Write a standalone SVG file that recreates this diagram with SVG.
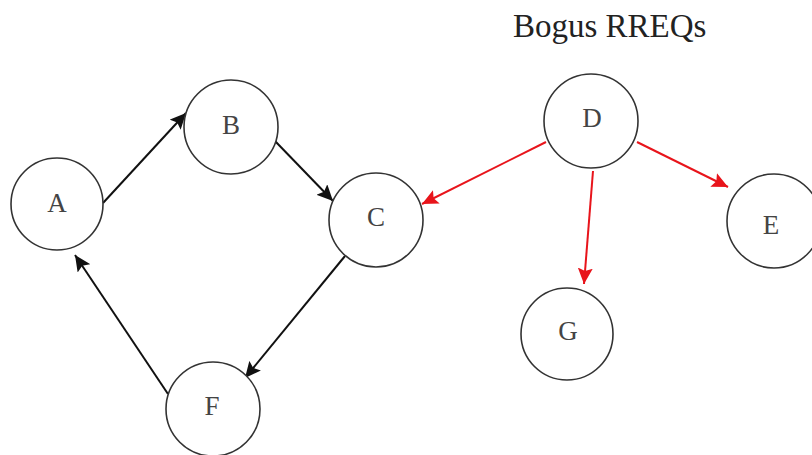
<svg xmlns="http://www.w3.org/2000/svg" width="812" height="455" viewBox="0 0 812 455">
<style>
.node circle{fill:#fff;stroke:#333;stroke-width:1.6}
.node text{font-family:"Liberation Serif","Times New Roman",serif;font-size:27px;fill:#444;text-anchor:middle}
.blk{stroke:#111;stroke-width:2;fill:none}
.red{stroke:#e8141b;stroke-width:2;fill:none}
.title{font-family:"Liberation Serif","Times New Roman",serif;font-size:33px;fill:#222}
</style>
<defs>
<marker id="ab" markerUnits="userSpaceOnUse" markerWidth="17" markerHeight="15" refX="16" refY="7.5" orient="auto"><path d="M0,0 L16,7.5 L0,15 L3,7.5 z" fill="#111"/></marker>
<marker id="ar" markerUnits="userSpaceOnUse" markerWidth="17" markerHeight="15" refX="16" refY="7.5" orient="auto"><path d="M0,0 L16,7.5 L0,15 L3,7.5 z" fill="#e8141b"/></marker>
</defs>
<rect width="812" height="455" fill="#fff"/>
<text class="title" x="513" y="37">Bogus RREQs</text>
<g id="connectors">
<line class="blk" x1="103" y1="203" x2="186" y2="113" marker-end="url(#ab)"/>
<line class="blk" x1="275" y1="141" x2="333" y2="201" marker-end="url(#ab)"/>
<line class="blk" x1="345" y1="256" x2="245" y2="378" marker-end="url(#ab)"/>
<line class="blk" x1="168" y1="394" x2="75" y2="255" marker-end="url(#ab)"/>
<line class="red" x1="546" y1="142" x2="422" y2="204" marker-end="url(#ar)"/>
<line class="red" x1="593" y1="171" x2="584" y2="284" marker-end="url(#ar)"/>
<line class="red" x1="637" y1="142" x2="728" y2="187" marker-end="url(#ar)"/>
</g>
<g id="A" class="node"><circle cx="57" cy="204" r="46"/><text x="57" y="212">A</text></g>
<g id="B" class="node"><circle cx="231" cy="127" r="47"/><text x="231" y="134">B</text></g>
<g id="C" class="node"><circle cx="376" cy="220" r="47"/><text x="376" y="226">C</text></g>
<g id="D" class="node"><circle cx="591" cy="121" r="47"/><text x="592" y="127">D</text></g>
<g id="E" class="node"><circle cx="774" cy="221" r="47"/><text x="771" y="234">E</text></g>
<g id="G" class="node"><circle cx="567" cy="334" r="46"/><text x="568" y="340">G</text></g>
<g id="F" class="node"><circle cx="213" cy="409" r="47"/><text x="212" y="415">F</text></g>
</svg>
